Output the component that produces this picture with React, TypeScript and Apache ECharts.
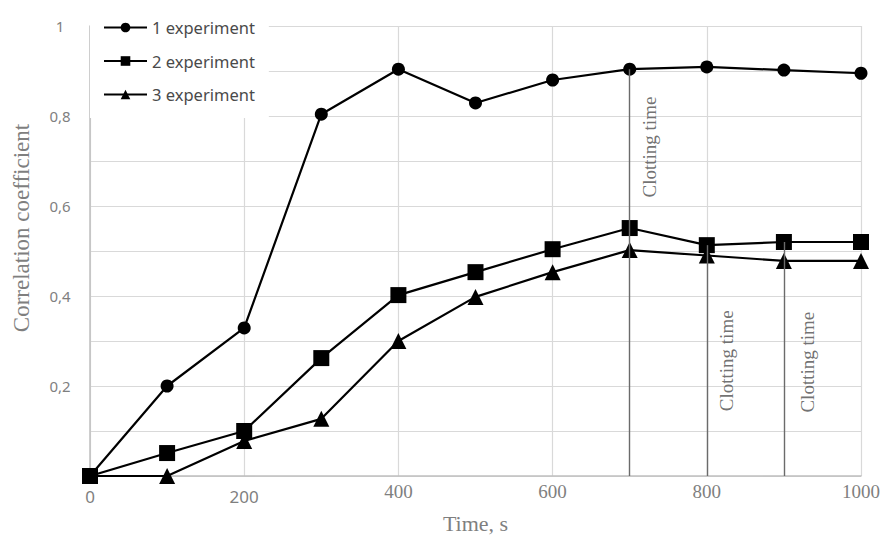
import React, { useEffect, useRef } from "react";
import * as echarts from "echarts";

const times = [0, 100, 200, 300, 400, 500, 600, 700, 800, 900, 1000];
const exp1 = [0, 0.2, 0.329, 0.804, 0.904, 0.829, 0.88, 0.904, 0.909, 0.902, 0.895];
const exp2 = [0, 0.051, 0.1, 0.262, 0.402, 0.453, 0.504, 0.551, 0.513, 0.52, 0.52];
const exp3 = [0, 0, 0.078, 0.127, 0.3, 0.398, 0.453, 0.502, 0.49, 0.478, 0.478];
const seriesNames = ["1 experiment", "2 experiment", "3 experiment"];
const clottingTimes = [700, 800, 900];
const clottingTops = [exp1[7], exp2[8], exp2[9]];
const clottingLabelAt = [
  [726, 0.731],
  [826, 0.256],
  [931, 0.253],
];
const clottingText = "Clotting time";

export default function App() {
  const ref = useRef<HTMLDivElement>(null);
  useEffect(() => {
    if (!ref.current) return;
    document.body.style.margin = "0";
    const chart = echarts.init(ref.current, undefined, { renderer: "svg" });
    const toPairs = (ys: number[]) => times.map((t, i) => [t, ys[i]]);
    const lineStyle = { color: "#000", width: 2.2 };
    const itemStyle = { color: "#000" };
    chart.setOption({
      animation: false,
      backgroundColor: "#fff",
      grid: { left: 90, right: 22, top: 26, bottom: 64, containLabel: false },
      legend: {
        data: seriesNames,
        orient: "vertical",
        left: 90,
        top: 9,
        padding: [10, 14, 15, 13],
        backgroundColor: "#fff",
        itemWidth: 43,
        itemHeight: 12,
        itemGap: 16.5,
        textStyle: { fontFamily: "Noto Sans", fontSize: 16.5, color: "#4a4a4a" },
        z: 10,
      },
      xAxis: {
        type: "value",
        min: 0,
        max: 1000,
        interval: 200,
        name: "Time, s",
        nameLocation: "middle",
        nameGap: 36,
        nameTextStyle: { fontFamily: "Liberation Serif", fontSize: 22, color: "#7f7f7f" },
        axisLine: { show: true, lineStyle: { color: "#bfbfbf", width: 1.5 } },
        axisTick: { show: false },
        splitLine: { show: true, lineStyle: { color: "#d9d9d9", width: 1.2 } },
        axisLabel: {
          margin: 6,
          formatter: (v: number) => (v <= 200 ? `{s|${v}}` : `{r|${v}}`),
          rich: {
            s: { fontFamily: "Noto Sans", fontSize: 17, color: "#7f7f7f", padding: [6, 0, 0, 0] },
            r: { fontFamily: "Liberation Serif", fontSize: 19, color: "#7f7f7f" },
          },
        },
      },
      yAxis: {
        type: "value",
        min: 0,
        max: 1,
        interval: 0.1,
        name: "Correlation coefficient",
        nameLocation: "middle",
        nameRotate: 90,
        nameGap: 57,
        nameTextStyle: {
          fontFamily: "Liberation Serif",
          fontSize: 23,
          color: "#7f7f7f",
          padding: [0, 0, 0, 46],
        },
        axisLine: { show: true, lineStyle: { color: "#bfbfbf", width: 1.5 } },
        axisTick: { show: false },
        splitLine: { show: true, lineStyle: { color: "#d9d9d9", width: 1.2 } },
        axisLabel: {
          margin: 30,
          align: "center",
          fontFamily: "Noto Sans",
          fontSize: 15,
          color: "#7f7f7f",
          formatter: (v: number) => {
            const k = Math.round(v * 10);
            if (k === 0 || k % 2 !== 0) return "";
            if (k === 10) return "1";
            return "0," + k;
          },
        },
      },
      series: [
        {
          name: seriesNames[0],
          type: "line",
          data: toPairs(exp1),
          symbol: "circle",
          symbolSize: 13,
          lineStyle,
          itemStyle,
          z: 3,
          markLine: {
            silent: true,
            symbol: ["none", "none"],
            label: { show: false },
            lineStyle: { color: "#6b6b6b", width: 1.4, type: "solid" },
            data: clottingTimes.map((t, i) => [
              { coord: [t, 0] },
              { coord: [t, clottingTops[i]] },
            ]),
          },
        },
        {
          name: seriesNames[1],
          type: "line",
          data: toPairs(exp2),
          symbol: "rect",
          symbolSize: 16,
          lineStyle,
          itemStyle,
          z: 3,
        },
        {
          name: seriesNames[2],
          type: "line",
          data: toPairs(exp3),
          symbol: "triangle",
          symbolSize: 16,
          lineStyle,
          itemStyle,
          z: 3,
        },
        {
          name: "labels",
          type: "scatter",
          data: clottingLabelAt,
          symbolSize: 0,
          silent: true,
          label: {
            show: true,
            position: "inside",
            rotate: 90,
            formatter: () => clottingText,
            fontFamily: "Liberation Serif",
            fontSize: 19,
            color: "#4d4d4d",
          },
        },
      ],
    });
    return () => chart.dispose();
  }, []);
  return <div ref={ref} style={{ width: 883, height: 540 }} />;
}
